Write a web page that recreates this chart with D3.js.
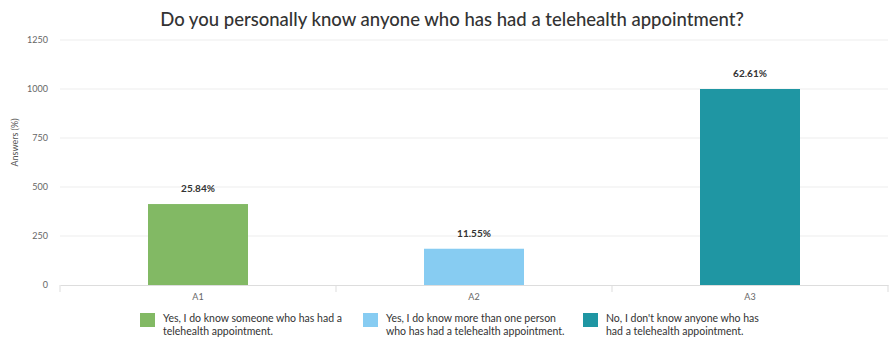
<!DOCTYPE html>
<html>
<head>
<meta charset="utf-8">
<script src="https://cdn.jsdelivr.net/npm/d3@7"></script>
<style>
  body { margin: 0; background: #fff; }
  text { font-family: Lato, "Open Sans", sans-serif; }
</style>
</head>
<body>
<div id="chart"></div>
<script>
const CATEGORIES = ["A1", "A2", "A3"];
const VALUES = [413, 185, 1000];
const PERCENTS = ["25.84%", "11.55%", "62.61%"];
const COLORS = ["#82b964", "#87ccf2", "#1f96a3"];
const LEGEND_LABELS = [
	["Yes, I do know someone who has had a", "telehealth appointment."],
	["Yes, I do know more than one person", "who has had a telehealth appointment."],
	["No, I don't know anyone who has", "had a telehealth appointment."]
];
const Y_TICKS = [0, 250, 500, 750, 1000, 1250];

var margin = { top: 40, right: 8, bottom: 69, left: 60 },
	width = 896 - margin.left - margin.right,
	height = 354 - margin.top - margin.bottom;

var svg = d3
	.select("#chart")
	.append("svg")
	.attr("width", 896)
	.attr("height", 354);

svg
	.append("text")
	.attr("x", 452)
	.attr("y", 26)
	.attr("text-anchor", "middle")
	.style("font-size", "18.5px")
	.style("font-weight", "500")
	.style("fill", "#333")
	.text("Do you personally know anyone who has had a telehealth appointment?");

var g = svg
	.append("g")
	.attr("transform", "translate(" + margin.left + "," + margin.top + ")");

var x = d3.scaleBand().domain(CATEGORIES).range([0, width]);
var y = d3.scaleLinear().domain([0, 1250]).range([height, 0]);

// grid
g.selectAll(".grid")
	.data(Y_TICKS.slice(1))
	.enter()
	.append("line")
	.attr("x1", 0)
	.attr("x2", width)
	.attr("y1", function (d) { return y(d); })
	.attr("y2", function (d) { return y(d); })
	.attr("stroke", "#ededed");

// y axis
var yAxis = g.append("g").call(
	d3.axisLeft(y).tickValues(Y_TICKS).tickFormat(d3.format("d")).tickSize(0).tickPadding(12)
);
yAxis.select(".domain").remove();
yAxis.selectAll("text").style("font-size", "9px").style("fill", "#666");

g.append("text")
	.attr("transform", "rotate(-90)")
	.attr("x", -height / 2 + 20)
	.attr("y", -42)
	.attr("text-anchor", "middle")
	.style("font-size", "9px")
	.style("fill", "#555")
	.text("Answers (%)");

// bars
g.selectAll(".bar")
	.data(VALUES)
	.enter()
	.append("rect")
	.attr("x", function (d, i) { return x(CATEGORIES[i]) + (x.bandwidth() - 100) / 2; })
	.attr("y", function (d) { return y(d); })
	.attr("width", 100)
	.attr("height", function (d) { return height - y(d); })
	.attr("fill", function (d, i) { return COLORS[i]; });

g.selectAll(".val")
	.data(VALUES)
	.enter()
	.append("text")
	.attr("x", function (d, i) { return x(CATEGORIES[i]) + x.bandwidth() / 2; })
	.attr("y", function (d) { return y(d) - 12; })
	.attr("text-anchor", "middle")
	.style("font-size", "10px")
	.style("font-weight", "bold")
	.style("fill", "#333")
	.text(function (d, i) { return PERCENTS[i]; });

// x axis
var xAxis = g
	.append("g")
	.attr("transform", "translate(0," + height + ")")
	.call(d3.axisBottom(x).tickSize(0).tickPadding(9));
xAxis.select(".domain").attr("stroke", "#ddd");
xAxis.selectAll("text").style("font-size", "9px").style("fill", "#666");

// category separators
g.selectAll(".sep")
	.data(d3.range(CATEGORIES.length + 1))
	.enter()
	.append("line")
	.attr("x1", function (i) { return i * x.step(); })
	.attr("x2", function (i) { return i * x.step(); })
	.attr("y1", height)
	.attr("y2", height + 7)
	.attr("stroke", "#ddd");

// legend
var legendX = [140, 363, 583];
var legend = svg
	.selectAll(".legend")
	.data(LEGEND_LABELS)
	.enter()
	.append("g")
	.attr("transform", function (d, i) { return "translate(" + legendX[i] + ",313)"; });

legend
	.append("rect")
	.attr("width", 15)
	.attr("height", 14)
	.attr("fill", function (d, i) { return COLORS[i]; });

legend
	.selectAll("text")
	.data(function (d) { return d; })
	.enter()
	.append("text")
	.attr("x", 23)
	.attr("y", function (d, i) { return 9 + i * 13; })
	.style("font-size", "10.5px")
	.style("fill", "#333")
	.text(function (d) { return d; });
</script>
</body>
</html>
